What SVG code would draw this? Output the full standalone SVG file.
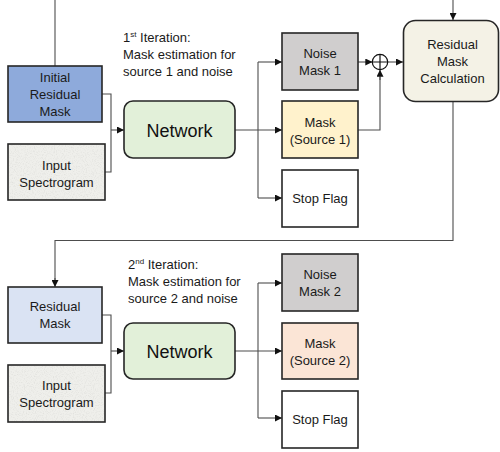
<svg xmlns="http://www.w3.org/2000/svg" width="500" height="452" viewBox="0 0 500 452">
<style>
.box{stroke:#262626;stroke-width:1.6}
.t{font-family:"Liberation Sans",Arial,sans-serif;font-size:13px;fill:#1a1a1a;text-anchor:middle}
.net{font-family:"Liberation Sans",Arial,sans-serif;font-size:18px;fill:#111;text-anchor:middle}
.lab{font-family:"Liberation Sans",Arial,sans-serif;font-size:13px;fill:#1a1a1a}
.sup{font-size:8px}
.c{fill:none;stroke:#4d4d4d;stroke-width:1.1}
.ca{fill:none;stroke:#4d4d4d;stroke-width:1.1;marker-end:url(#ah)}
</style>
<defs>
<marker id="ah" viewBox="0 0 10 10" refX="10" refY="5" markerWidth="7" markerHeight="7" markerUnits="userSpaceOnUse" orient="auto">
<path d="M0,0 L10,5 L0,10 z" fill="#111"/>
</marker>
<filter id="grain" x="0" y="0" width="100%" height="100%">
<feTurbulence type="fractalNoise" baseFrequency="0.9" numOctaves="2" seed="3" result="n"/>
<feColorMatrix in="n" type="matrix" values="0 0 0 0 0.6  0 0 0 0 0.6  0 0 0 0 0.58  1.0 0 0 0 -0.45" result="g"/>
<feComposite in="g" in2="SourceGraphic" operator="atop"/>
</filter>
</defs>

<g id="connectors">
<path class="c" d="M55,0 V66"/>
<path class="c" d="M102,94 H111 V172 H105"/>
<path class="ca" d="M111,130 H124"/>
<path class="ca" d="M235,130 H282"/>
<path class="c" d="M258,198 V62"/>
<path class="ca" d="M258,62 H282"/>
<path class="ca" d="M258,198 H282"/>
<path class="ca" d="M358,62 H372.3"/>
<path class="c" d="M358,130 H380 V77"/>
<path class="ca" d="M380,80 V69.7"/>
<path class="ca" d="M387.7,62 H403"/>
<path class="ca" d="M453,0 V20"/>
<path class="c" d="M453,102 V240.5 H55 V280"/>
<path class="ca" d="M55,278 V287"/>
<path class="c" d="M102,315 H111 V393 H105"/>
<path class="ca" d="M111,351 H124"/>
<path class="ca" d="M235,351 H282"/>
<path class="c" d="M258,283 V418"/>
<path class="ca" d="M258,283 H282"/>
<path class="ca" d="M258,418 H282"/>
</g>

<g id="sum">
<circle cx="380" cy="62" r="7.7" fill="#fff" stroke="#111" stroke-width="1.2"/>
<path d="M372.3,62 H387.7 M380,54.3 V69.7" stroke="#111" stroke-width="1.2"/>
</g>

<g id="label1">
<text class="lab" x="123" y="42">1<tspan class="sup" dy="-5">st</tspan><tspan dy="5"> Iteration:</tspan></text>
<text class="lab" x="123" y="59">Mask estimation for</text>
<text class="lab" x="123" y="76">source 1 and noise</text>
</g>
<g id="label2">
<text class="lab" x="128" y="269">2<tspan class="sup" dy="-5">nd</tspan><tspan dy="5"> Iteration:</tspan></text>
<text class="lab" x="128" y="286">Mask estimation for</text>
<text class="lab" x="128" y="303">source 2 and noise</text>
</g>

<g id="initial-residual-mask">
<rect class="box" x="8" y="66" width="94" height="56" fill="#8eaadb"/>
<text class="t" x="55" y="82">Initial</text>
<text class="t" x="55" y="99">Residual</text>
<text class="t" x="55" y="116">Mask</text>
</g>
<g id="input-spectrogram-1">
<rect x="8" y="144" width="97" height="56" fill="#efefeb" filter="url(#grain)"/>
<rect class="box" x="8" y="144" width="97" height="56" fill="none"/>
<text class="t" x="56.5" y="170">Input</text>
<text class="t" x="56.5" y="187">Spectrogram</text>
</g>
<g id="network-1">
<rect class="box" x="124" y="101" width="111" height="57" rx="9" fill="#e2f0d9"/>
<text class="net" x="179.5" y="136.5">Network</text>
</g>
<g id="noise-mask-1">
<rect class="box" x="282" y="33" width="76" height="57" fill="#d0cece"/>
<text class="t" x="320" y="58">Noise</text>
<text class="t" x="320" y="75">Mask 1</text>
</g>
<g id="mask-source-1">
<rect class="box" x="282" y="101" width="76" height="57" fill="#fff2cc"/>
<text class="t" x="320" y="127">Mask</text>
<text class="t" x="320" y="144">(Source 1)</text>
</g>
<g id="stop-flag-1">
<rect class="box" x="282" y="170" width="76" height="57" fill="#ffffff"/>
<text class="t" x="320" y="203">Stop Flag</text>
</g>
<g id="residual-mask-calculation">
<rect class="box" x="403.5" y="20.5" width="95" height="81" rx="12" fill="#f4f2e6"/>
<text class="t" x="452.5" y="49">Residual</text>
<text class="t" x="452.5" y="66">Mask</text>
<text class="t" x="452.5" y="83">Calculation</text>
</g>

<g id="residual-mask">
<rect class="box" x="8" y="287" width="94" height="56" fill="#dae3f3"/>
<text class="t" x="55" y="311">Residual</text>
<text class="t" x="55" y="328">Mask</text>
</g>
<g id="input-spectrogram-2">
<rect x="8" y="365" width="97" height="57" fill="#efefeb" filter="url(#grain)"/>
<rect class="box" x="8" y="365" width="97" height="57" fill="none"/>
<text class="t" x="56.5" y="390">Input</text>
<text class="t" x="56.5" y="407">Spectrogram</text>
</g>
<g id="network-2">
<rect class="box" x="124" y="323" width="111" height="56" rx="9" fill="#e2f0d9"/>
<text class="net" x="179.5" y="357.5">Network</text>
</g>
<g id="noise-mask-2">
<rect class="box" x="282" y="254" width="76" height="57" fill="#d0cece"/>
<text class="t" x="320" y="279">Noise</text>
<text class="t" x="320" y="296">Mask 2</text>
</g>
<g id="mask-source-2">
<rect class="box" x="282" y="323" width="76" height="56" fill="#fbe5d6"/>
<text class="t" x="320" y="348">Mask</text>
<text class="t" x="320" y="365">(Source 2)</text>
</g>
<g id="stop-flag-2">
<rect class="box" x="282" y="391" width="76" height="57" fill="#ffffff"/>
<text class="t" x="320" y="424">Stop Flag</text>
</g>
</svg>
